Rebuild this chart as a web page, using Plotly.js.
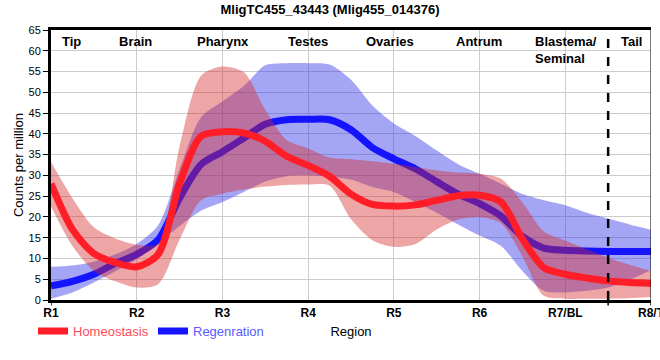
<!DOCTYPE html>
<html>
<head>
<meta charset="utf-8">
<script src="https://cdn.plot.ly/plotly-3.0.1.min.js"></script>
<style>html,body{margin:0;padding:0;background:#fff;}#chart{width:660px;height:360px;}</style>
</head>
<body>
<div id="chart"></div>
<script>
// Region positions (0 = R1 ... 7 = R8/T), sampled every quarter region
const xPos = [0,0.25,0.5,0.75,1,1.25,1.5,1.75,2,2.25,2.5,2.75,3,3.25,3.5,3.75,4,4.25,4.5,4.75,5,5.25,5.5,5.75,6,6.25,6.5,6.75,7];

const tickLabels = ["R1","R2","R3","R4","R5","R6","R7/BL","R8/T"];
const regionNames = ["Tip","Brain","Pharynx","Testes","Ovaries","Antrum","Blastema/<br>Seminal","Tail"];
const regionLabelPos = [0.105,0.77,1.68,2.74,3.65,4.70,5.62,6.63];
const tailBoundary = 6.5;

// Homeostasis
const homMean  = [28,17,11.2,9.0,8.0,11,28,39.4,40.5,40.2,38.2,34.6,32.4,29.8,25.5,23.0,22.6,22.9,24.0,25.1,25.2,23.6,14.7,7.8,6.2,5.3,4.6,4.2,4.0];
const homUpper = [33.2,24.5,17.5,14.8,13.3,13.6,37,54,56.2,54.8,45.8,38.5,36.5,34.3,33.9,33.4,32.8,32.0,31.2,30.7,30.4,29.2,23.5,16.5,14.3,12.2,10.2,8.5,7.0];
const homLower = [22.5,13,7.0,4.5,3.0,3.8,14.5,24.0,25.6,26.6,27.3,27.7,27.8,27.5,19.5,14.4,12.8,13.5,17,19.4,19.9,18.5,10.5,1.0,0.3,0.3,0.3,0.4,0.7];

// Regeneration
const regMean  = [3.4,4.5,6.2,8.8,11.0,14.5,24.5,32.6,35.7,39.0,42.3,43.4,43.5,43.4,41,36.7,34.0,31.6,28.5,25.5,23.2,20.2,15.3,12.5,12.0,11.8,11.7,11.7,11.7];
const regUpper = [8.0,8.3,9.2,11.0,13.5,18.0,31.5,44,47.8,51.5,56.5,57,57,56.7,53,46.8,42.5,39.5,36,32.7,30.4,28.0,25.5,24,22.8,21,19.6,18.2,16.9];
const regLower = [0.3,1.8,4.2,6.9,9.8,13.6,17.8,21.5,23.6,26.0,28.5,29.8,30.0,29.7,29,27.2,26.0,23.6,21,18.2,15.5,13,7,2.2,1.8,2.2,3.0,4.8,7.2];

const FONT = "Liberation Sans, Arial, sans-serif";
const lineShape = {shape:'spline', smoothing:0.8};

function band(upper, lower, fillColor){
  return [
    {x:xPos, y:upper, type:'scatter', mode:'lines', line:Object.assign({width:0, color:fillColor}, lineShape), showlegend:false, hoverinfo:'skip'},
    {x:xPos, y:lower, type:'scatter', mode:'lines', line:Object.assign({width:0, color:fillColor}, lineShape), fill:'tonexty', fillcolor:fillColor, showlegend:false, hoverinfo:'skip'}
  ];
}

const regLine = {x:xPos, y:regMean, type:'scatter', mode:'lines', name:'<span style="color:#5a5aff">Regenration</span>',
     line:Object.assign({width:7, color:'#1414ff'}, lineShape), legendrank:2};
const homLine = {x:xPos, y:homMean, type:'scatter', mode:'lines', name:'<span style="color:#ff4a5a">Homeostasis</span>',
     line:Object.assign({width:7, color:'#ff1e28'}, lineShape), legendrank:1};

const traces = [].concat(
  band(regUpper, regLower, 'rgba(55,55,233,0.45)'),
  [regLine],
  band(homUpper, homLower, 'rgba(215,40,40,0.42)'),
  [homLine]
);

const annotations = regionNames.map((t,i)=>({
  x: regionLabelPos[i], xref:'x', y:1, yref:'paper', yanchor:'top', xanchor:'left', align:'left',
  yshift:-2, text:'<b>'+t+'</b>', showarrow:false, font:{family:FONT, size:13, color:'#000'}
}));

const shapes = [
  {type:'line', xref:'x', yref:'paper', x0:tailBoundary, x1:tailBoundary, y0:0, y1:1, line:{color:'#000', width:2.5, dash:'dash'}},
  {type:'line', xref:'x', yref:'paper', x0:tailBoundary, x1:tailBoundary, y0:0, y1:-0.02, line:{color:'#000', width:1.5}},
  {type:'line', xref:'x', yref:'paper', x0:7, x1:7, y0:0, y1:-0.02, line:{color:'#000', width:1.5}},
  {type:'line', xref:'x', yref:'paper', x0:0, x1:0, y0:0, y1:-0.02, line:{color:'#000', width:1.5}},
  {type:'line', xref:'x', yref:'paper', x0:7, x1:7, y0:0, y1:1, line:{color:'#000', width:1}}
];

const layout = {
  width:660, height:360,
  margin:{l:51, r:9, t:30, b:60},
  paper_bgcolor:'#fff', plot_bgcolor:'#fff',
  font:{family:FONT, size:11, color:'#000'},
  title:{text:'<b>MligTC455_43443 (Mlig455_014376)</b>', font:{family:FONT, size:13, color:'#000'}, x:0.5, xanchor:'center', y:0.975, yanchor:'middle', yref:'container'},
  xaxis:{
    range:[0,7], tickvals:[0,1,2,3,4,5,6,7], ticktext:tickLabels.map(t=>'<b>'+t+'</b>'),
    tickfont:{family:FONT, size:12, color:'#000'}, ticklabeloverflow:'allow',
    showgrid:true, gridcolor:'#cccccc', gridwidth:1,
    showline:true, linecolor:'#000', linewidth:3, mirror:true,
    ticks:'', zeroline:false,
    title:{text:'Region', font:{family:FONT, size:13, color:'#000'}, standoff:8},
    automargin:false
  },
  yaxis:{
    range:[0,65], dtick:5, tick0:0,
    tickfont:{family:FONT, size:11, color:'#000'},
    showgrid:true, gridcolor:'#cccccc', gridwidth:1,
    showline:true, linecolor:'#000', linewidth:3,
    ticks:'outside', ticklen:5, tickcolor:'#000', zeroline:false,
    title:{text:'Counts per million', font:{family:FONT, size:13, color:'#000'}, standoff:2},
    automargin:false
  },
  showlegend:true,
  legend:{orientation:'h', x:-0.03, xanchor:'left', y:-0.115, yanchor:'middle', traceorder:'normal',
          font:{family:FONT, size:13}, itemwidth:30, entrywidth:75, bgcolor:'rgba(0,0,0,0)'},
  annotations: annotations,
  shapes: shapes
};

Plotly.newPlot('chart', traces, layout, {staticPlot:true, displayModeBar:false});
</script>
</body>
</html>
